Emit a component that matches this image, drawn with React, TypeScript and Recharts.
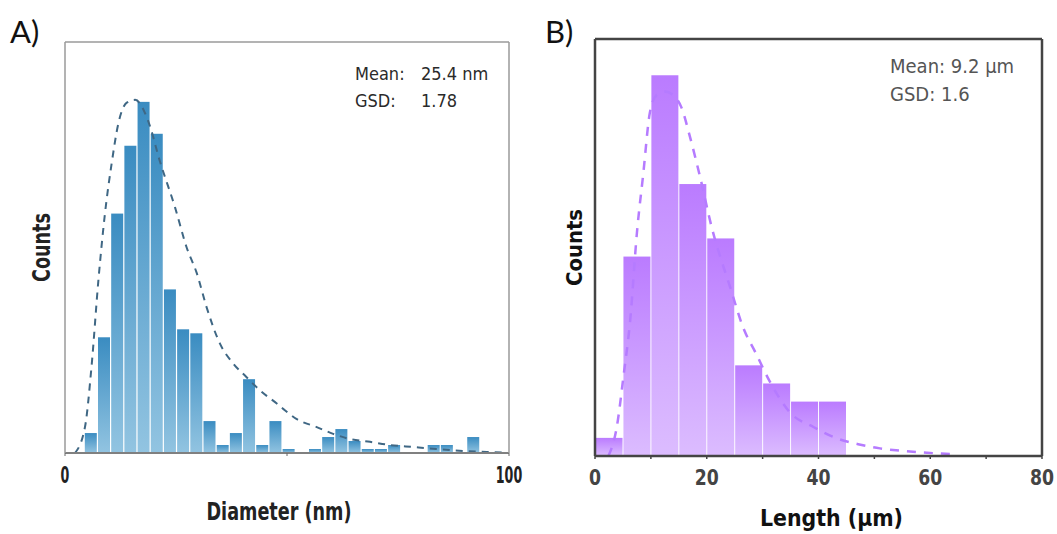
import React from 'react';
import { ComposedChart, Bar, Line, XAxis, YAxis, Label } from 'recharts';

// Panel A - particle diameter histogram (nm)
const diamBinStart = 4.35;
const diamBinWidth = 2.97;
const diamCounts = [5, 29, 60, 77, 88, 80, 41, 31, 30, 8, 2, 5, 18.5, 2, 8, 1, 0, 1, 4, 6, 3, 1, 1, 2, 0, 0, 2, 2, 0, 4];
const diamFitX = [2.25, 4.5, 6, 7.5, 9, 10.5, 12, 13.9, 15.8, 18.8, 21.4, 24.8, 27.4, 29.7, 31.9, 34.9, 37.9, 40.9, 43.9, 47.7, 49.2, 52.2, 56.7, 60.4, 64.2, 68.7, 73.2, 78.4, 83.7, 89.7, 95, 99];
const diamFitY = [0, 6.5, 22, 43, 60, 72.5, 82.5, 87.8, 88.5, 83, 73, 61.5, 51.5, 45, 36.5, 27.4, 22.4, 19, 15.7, 12.4, 11, 8.5, 6.5, 4.8, 3.5, 2.8, 2, 1.5, 1, 0.5, 0.25, 0.1];
const diamTicks = [0, 50, 100];
const diamTickLabels = [0, 100];

// Panel B - fibre length histogram (um)
const lenBinStart = 0;
const lenBinWidth = 5;
const lenCounts = [1, 11, 21, 15, 12, 5, 4, 3, 3];
const lenFitX = [2.4, 3.9, 5.1, 6.3, 7.5, 8.65, 9.8, 11, 12.5, 14, 15.5, 17, 18.8, 20.9, 24.2, 26.5, 28.9, 31.3, 34.9, 39.1, 43.3, 47.1, 51, 55.2, 59.4, 63.5, 64.7];
const lenFitY = [0, 1.6, 4.4, 7.5, 12.3, 15.6, 18.9, 19.9, 20.1, 19.9, 19.2, 17.6, 15.4, 12.6, 9.3, 7.1, 5.6, 4.1, 2.4, 1.6, 0.97, 0.65, 0.42, 0.28, 0.18, 0.11, 0.1];
const lenTicks = [0, 10, 20, 30, 40, 50, 60, 70, 80];
const lenTickLabels = [0, 20, 40, 60, 80];

const COND = '"DejaVu Sans Condensed", "DejaVu Sans", sans-serif';

const barShape = (fill: string, opacity = 1) => (p: any) => {
  if (!p.height || p.height <= 0) return <g />;
  return <rect x={p.x + 0.5} y={p.y} width={Math.max(p.width - 1, 0)} height={p.height} fill={fill} fillOpacity={opacity} />;
};

function DiameterChart() {
  const bins = diamCounts.map((c, i) => ({ x: diamBinStart + diamBinWidth * (i + 0.5), count: c }));
  const fit = diamFitX.map((x, i) => ({ x, y: diamFitY[i] }));
  const frame = { stroke: '#9a9a9a', strokeWidth: 1.5 };

  // narrow bold look: squeeze the glyphs with textLength
  const tick = (p: any) =>
    diamTickLabels.includes(p.payload.value) ? (
      <text x={p.x} y={p.y} dy={25} textAnchor="middle" fontFamily={COND} fontWeight="bold" fontSize={23} fill="#222"
        textLength={String(p.payload.value).length * 8.8} lengthAdjust="spacingAndGlyphs">
        {p.payload.value}
      </text>
    ) : (
      <g />
    );

  return (
    <ComposedChart width={545} height={534} data={bins} margin={{ top: 41, right: 35, bottom: 51, left: 64 }} barCategoryGap={0} barGap={0}>
      <defs>
        <linearGradient id="gradA" x1="0" y1="0" x2="0" y2="1">
          <stop offset="0%" stopColor="#3a8cc1" />
          <stop offset="100%" stopColor="#92c4e1" />
        </linearGradient>
      </defs>
      <XAxis xAxisId="bins" dataKey="x" type="number" domain={[0, 100]} ticks={diamTicks} interval={0} height={30}
        axisLine={{ stroke: '#808080', strokeWidth: 2 }} tickLine={{ stroke: '#666' }} tickSize={3} tick={tick}>
        <Label content={(p: any) => {
          const vb = p.viewBox;
          return (
            <text x={vb.x + vb.width / 2 - 8} y={vb.y + 67} textAnchor="middle" fontFamily={COND} fontWeight="bold" fontSize={25} fill="#222"
              textLength={145} lengthAdjust="spacingAndGlyphs">
              Diameter (nm)
            </text>
          );
        }} />
      </XAxis>
      <XAxis xAxisId="fit" dataKey="x" type="number" domain={[0, 100]} orientation="top" height={1} tick={false} tickLine={false} axisLine={frame} />
      <YAxis yAxisId="l" type="number" domain={[0, 103]} width={1} tick={false} tickLine={false} axisLine={frame}>
        <Label content={(p: any) => {
          const vb = p.viewBox;
          const cx = vb.x + vb.width - 15;
          const cy = vb.y + vb.height / 2;
          return (
            <text x={cx} y={cy} transform={`rotate(-90 ${cx} ${cy})`} textAnchor="middle" fontFamily={COND} fontWeight="bold" fontSize={24} fill="#222"
              textLength={69} lengthAdjust="spacingAndGlyphs">
              Counts
            </text>
          );
        }} />
      </YAxis>
      <YAxis yAxisId="r" type="number" orientation="right" domain={[0, 103]} width={1} tick={false} tickLine={false} axisLine={frame} />
      <Bar xAxisId="bins" yAxisId="l" dataKey="count" fill="url(#gradA)" shape={barShape('url(#gradA)')} isAnimationActive={false} />
      <Line xAxisId="fit" yAxisId="r" data={fit} dataKey="y" type="monotone" stroke="#3f6784" strokeWidth={2} strokeDasharray="7 6" dot={false} activeDot={false} isAnimationActive={false} />
    </ComposedChart>
  );
}

function LengthChart() {
  const bins = lenCounts.map((c, i) => ({ x: lenBinStart + lenBinWidth * (i + 0.5), count: c }));
  const fit = lenFitX.map((x, i) => ({ x, y: lenFitY[i] }));
  const frame = { stroke: '#444', strokeWidth: 2.5 };

  const tick = (p: any) =>
    lenTickLabels.includes(p.payload.value) ? (
      <text x={p.x} y={p.y} dy={24} textAnchor="middle" fontFamily={COND} fontWeight="bold" fontSize={21} fill="#444"
        textLength={String(p.payload.value).length * 12} lengthAdjust="spacingAndGlyphs">
        {p.payload.value}
      </text>
    ) : (
      <g />
    );

  return (
    <ComposedChart width={527} height={534} data={bins} margin={{ top: 38, right: 14, bottom: 48, left: 64 }} barCategoryGap={0} barGap={0}>
      <defs>
        <linearGradient id="gradB" x1="0" y1="0" x2="0" y2="1">
          <stop offset="0%" stopColor="#b36dff" />
          <stop offset="100%" stopColor="#d8b5ff" />
        </linearGradient>
      </defs>
      <XAxis xAxisId="bins" dataKey="x" type="number" domain={[0, 80]} ticks={lenTicks} interval={0} height={30}
        axisLine={frame} tickLine={{ stroke: '#444', strokeWidth: 1.5 }} tickSize={3} tick={tick}>
        <Label content={(p: any) => {
          const vb = p.viewBox;
          return (
            <text x={vb.x + vb.width / 2 + 13} y={vb.y + 70} textAnchor="middle" fontFamily={COND} fontWeight="bold" fontSize={23} fill="#111"
              textLength={143} lengthAdjust="spacingAndGlyphs">
              Length (μm)
            </text>
          );
        }} />
      </XAxis>
      <XAxis xAxisId="fit" dataKey="x" type="number" domain={[0, 80]} orientation="top" height={1} tick={false} tickLine={false} axisLine={frame} />
      <YAxis yAxisId="l" type="number" domain={[0, 23]} width={1} tick={false} tickLine={false} axisLine={frame}>
        <Label content={(p: any) => {
          const vb = p.viewBox;
          const cx = vb.x + vb.width - 13;
          const cy = vb.y + vb.height / 2;
          return (
            <text x={cx} y={cy} transform={`rotate(-90 ${cx} ${cy})`} textAnchor="middle" fontFamily={COND} fontWeight="bold" fontSize={22} fill="#111"
              textLength={77} lengthAdjust="spacingAndGlyphs">
              Counts
            </text>
          );
        }} />
      </YAxis>
      <YAxis yAxisId="r" type="number" orientation="right" domain={[0, 23]} width={1} tick={false} tickLine={false} axisLine={frame} />
      <Line xAxisId="fit" yAxisId="r" data={fit} dataKey="y" type="monotone" stroke="#b57bff" strokeWidth={2.5} strokeDasharray="9 8" dot={false} activeDot={false} isAnimationActive={false} />
      <Bar xAxisId="bins" yAxisId="l" dataKey="count" fill="url(#gradB)" shape={barShape('url(#gradB)', 0.9)} isAnimationActive={false} />
    </ComposedChart>
  );
}

export default function App() {
  return (
    <div style={{ position: 'absolute', left: 0, top: 0, width: 1057, height: 534, background: '#fff', overflow: 'hidden' }}>
      <div style={{ position: 'absolute', left: 0, top: 0 }}>
        <DiameterChart />
      </div>
      <div style={{ position: 'absolute', left: 530, top: 0 }}>
        <LengthChart />
      </div>
      <svg width={1057} height={534} style={{ position: 'absolute', left: 0, top: 0, pointerEvents: 'none' }}>
        <text x={10} y={43} fontFamily="Lato, sans-serif" fontSize={31} fill="#111">A)</text>
        <text x={545} y={43} fontFamily="Lato, sans-serif" fontSize={31} fill="#111">B)</text>
        <g fontFamily={COND} fontSize={18} fill="#2a2a2a">
          <text x={355} y={80}>Mean:</text>
          <text x={421} y={80}>25.4 nm</text>
          <text x={355} y={107}>GSD:</text>
          <text x={421} y={107}>1.78</text>
        </g>
        <g fontFamily={COND} fontSize={20} fill="#555">
          <text x={890} y={73}>Mean: 9.2 μm</text>
          <text x={890} y={101}>GSD:</text>
          <text x={941} y={101}>1.6</text>
        </g>
      </svg>
    </div>
  );
}
